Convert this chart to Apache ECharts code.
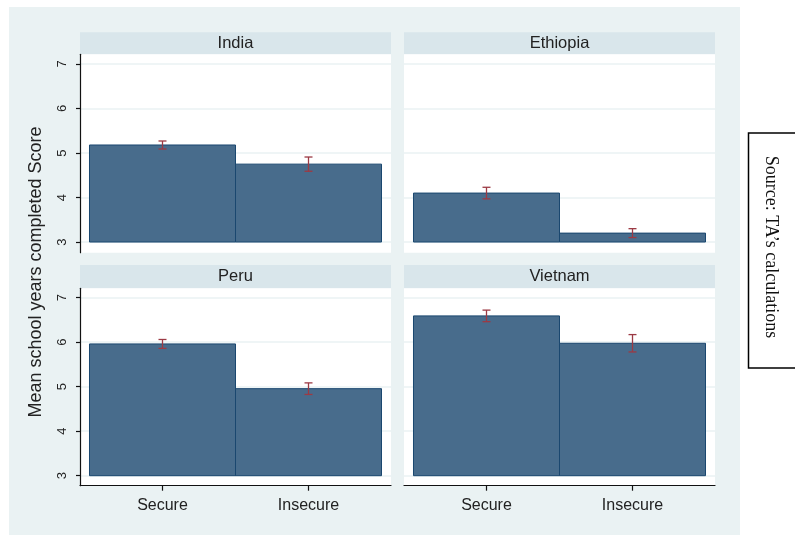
<!DOCTYPE html>
<html>
<head>
<meta charset="utf-8">
<script src="https://cdn.jsdelivr.net/npm/echarts@6/dist/echarts.min.js"></script>
<style>
  html, body { margin: 0; padding: 0; background: #ffffff; }
  #chart { width: 795px; height: 535px; }
</style>
</head>
<body>
<div id="chart"></div>
<script>
// Mean school years completed, by food-security status and country
const countries = ['India', 'Ethiopia', 'Peru', 'Vietnam'];
const groups = ['Secure', 'Insecure'];
const secureMean = [5.18, 4.10, 5.96, 6.59];
const insecureMean = [4.75, 3.20, 4.955, 5.975];
const secureErr = [0.09, 0.13, 0.10, 0.13];
const insecureErr = [0.16, 0.10, 0.13, 0.195];
const yTicks = [3, 4, 5, 6, 7];
const baseValue = 3;

const barFill = '#486c8c';
const barEdge = '#1a476f';
const errColor = '#9c3a44';
const bgColor = '#eaf2f3';
const stripColor = '#d9e6eb';
const sansFont = '"Liberation Sans", Arial, sans-serif';

// panel layout: [left, top, width, height, stripTop, stripHeight, yMin, yMax]
const panels = [
  [80, 54.3, 311, 198.4, 32.3, 22, 2.76, 7.218],
  [404, 54.3, 311, 198.4, 32.3, 22, 2.76, 7.218],
  [80, 288.3, 311, 197.4, 265, 23.3, 2.775, 7.21],
  [404, 288.3, 311, 197.4, 265, 23.3, 2.775, 7.21]
];

const grids = [], xAxes = [], yAxes = [], series = [], strips = [];

panels.forEach((p, i) => {
  const [left, top, width, height, sTop, sH, yMin, yMax] = p;
  const isLeft = i % 2 === 0;
  const isBottom = i >= 2;

  grids.push({
    left: left, top: top, width: width, height: height,
    show: true, backgroundColor: '#ffffff', borderWidth: 0
  });

  xAxes.push({
    gridIndex: i, type: 'value', min: -0.565, max: 1.565,
    axisLine: { show: isBottom, onZero: false, lineStyle: { color: '#111', width: 1.2 } },
    axisTick: { show: isBottom, customValues: [0, 1], length: 5, lineStyle: { color: '#111', width: 1.2 } },
    axisLabel: {
      show: isBottom, customValues: [0, 1], margin: 12,
      formatter: v => groups[Math.round(v)] || '',
      color: '#222', fontFamily: sansFont, fontSize: 16
    },
    splitLine: { show: false }
  });

  yAxes.push({
    gridIndex: i, type: 'value', min: yMin, max: yMax,
    axisLine: { show: isLeft, onZero: false, lineStyle: { color: '#111', width: 1.2 } },
    axisTick: { show: isLeft, customValues: yTicks, length: 4, lineStyle: { color: '#111', width: 1.2 } },
    axisLabel: {
      show: isLeft, customValues: yTicks, rotate: 90, margin: 11,
      color: '#222', fontFamily: sansFont, fontSize: 13
    },
    splitLine: { show: true, lineStyle: { color: bgColor, width: 1.5 } }
  });

  const means = [secureMean[i], insecureMean[i]];
  const errs = [secureErr[i], insecureErr[i]];
  const rows = means.map((m, k) => [k, m, errs[k]]);

  series.push({
    type: 'custom', xAxisIndex: i, yAxisIndex: i,
    data: rows,
    renderItem: (params, api) => {
      const x = api.value(0), v = api.value(1);
      const a = api.coord([x - 0.5, baseValue]);
      const b = api.coord([x + 0.5, v]);
      return {
        type: 'rect',
        shape: { x: a[0], y: b[1], width: b[0] - a[0], height: a[1] - b[1] },
        style: { fill: barFill, stroke: barEdge, lineWidth: 1 }
      };
    }
  });

  series.push({
    type: 'custom', xAxisIndex: i, yAxisIndex: i,
    data: rows, z: 5,
    renderItem: (params, api) => {
      const x = api.value(0), v = api.value(1), e = api.value(2);
      const hi = api.coord([x, v + e]);
      const lo = api.coord([x, v - e]);
      const cap = 4;
      const st = { stroke: errColor, lineWidth: 1.3 };
      return {
        type: 'group',
        children: [
          { type: 'line', shape: { x1: hi[0], y1: hi[1], x2: lo[0], y2: lo[1] }, style: st },
          { type: 'line', shape: { x1: hi[0] - cap, y1: hi[1], x2: hi[0] + cap, y2: hi[1] }, style: st },
          { type: 'line', shape: { x1: lo[0] - cap, y1: lo[1], x2: lo[0] + cap, y2: lo[1] }, style: st }
        ]
      };
    }
  });

  strips.push({
    type: 'rect', z: -5,
    shape: { x: left, y: sTop, width: width, height: sH },
    style: { fill: stripColor }
  });
  strips.push({
    type: 'text', z: 5,
    x: left + width / 2, y: sTop + sH / 2,
    style: {
      text: countries[i], fill: '#222', font: '16.5px ' + sansFont,
      align: 'center', verticalAlign: 'middle'
    }
  });
});

const chart = echarts.init(document.getElementById('chart'), null, { renderer: 'canvas' });
chart.setOption({
  animation: false,
  backgroundColor: '#ffffff',
  grid: grids,
  xAxis: xAxes,
  yAxis: yAxes,
  series: series,
  graphic: [
    {
      type: 'rect', z: -10,
      shape: { x: 9, y: 7, width: 731, height: 528 },
      style: { fill: bgColor }
    },
    ...strips,
    {
      type: 'text', z: 5,
      x: 36, y: 272, rotation: Math.PI / 2,
      style: {
        text: 'Mean school years completed Score', fill: '#222',
        font: '18px ' + sansFont, align: 'center', verticalAlign: 'middle'
      }
    },
    {
      type: 'rect', z: 5,
      shape: { x: 748.5, y: 133, width: 60, height: 235 },
      style: { fill: '#ffffff', stroke: '#000', lineWidth: 1.5 }
    },
    {
      type: 'text', z: 6,
      x: 771, y: 247, rotation: -Math.PI / 2,
      style: {
        text: 'Source: TA\u2019s calculations', fill: '#111',
        font: '18px "Liberation Serif", "Times New Roman", serif',
        align: 'center', verticalAlign: 'middle'
      }
    }
  ]
});
</script>
</body>
</html>
